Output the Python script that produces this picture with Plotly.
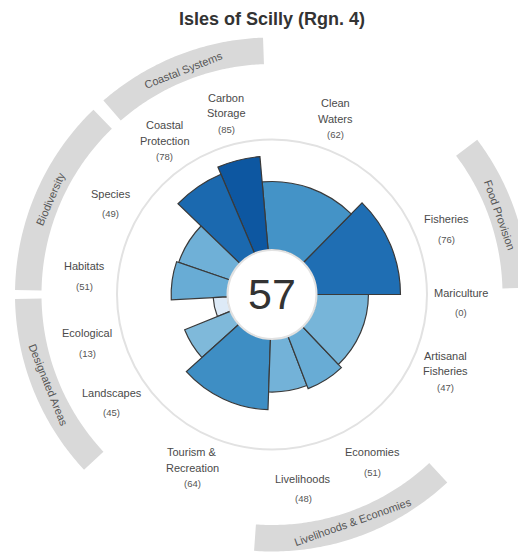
import numpy as np
import plotly.graph_objects as go
import plotly.colors as pc

# ---------------- data ----------------
title_text = "Isles of Scilly (Rgn. 4)"
index_score = 57

goals = ["Fisheries", "Clean Waters", "Carbon Storage", "Coastal Protection",
         "Species", "Habitats", "Ecological", "Landscapes",
         "Tourism & Recreation", "Livelihoods", "Economies",
         "Artisanal Fisheries", "Mariculture"]
label_lines = [["Fisheries"], ["Clean", "Waters"], ["Carbon", "Storage"],
               ["Coastal", "Protection"], ["Species"], ["Habitats"],
               ["Ecological"], ["Landscapes"], ["Tourism &", "Recreation"],
               ["Livelihoods"], ["Economies"], ["Artisanal", "Fisheries"],
               ["Mariculture"]]
scores = [76, 62, 85, 78, 49, 51, 13, 45, 64, 48, 51, 47, 0]
# angular width of each petal (degrees), counter-clockwise from east
widths = [45.5, 49.5, 18, 23, 25, 22, 19, 20, 46, 23, 22.5, 46.5, 0]

groups = ["Food Provision", "Coastal Systems", "Biodiversity",
          "Designated Areas", "Livelihoods & Economies"]
group_start = [1.5, 92, 134, 181, 266]
group_end = [37, 131, 179, 223, 313]

# ---------------- geometry (pixels) ----------------
W, H = 518, 552
cx, cy = 272, 294.5
R_outer = 155.0
R_hole = 44.5
band_r0, band_r1 = 230.5, 257.0
FONT = "Liberation Sans, Arial, sans-serif"


def px_to_paper(x, y):
    return x / W, 1 - y / H


starts = np.concatenate([[0], np.cumsum(widths)[:-1]])
centers = starts + np.array(widths) / 2.0
colors = pc.sample_colorscale(pc.sequential.Blues, [s / 100 for s in scores])

fig = go.Figure()
fig.add_trace(go.Barpolar(
    r=scores, theta=centers, width=widths, base=0,
    marker=dict(color=colors, line=dict(color="#3a3a3a", width=1.2)),
    hoverinfo="skip", showlegend=False,
))

x0, y0 = px_to_paper(cx - R_outer, cy + R_outer)
x1, y1 = px_to_paper(cx + R_outer, cy - R_outer)

shapes = []
for gs, ge in zip(group_start, group_end):
    a = np.radians(np.linspace(gs, ge, 80))
    pts = [(cx + band_r1 * np.cos(t), cy - band_r1 * np.sin(t)) for t in a]
    pts += [(cx + band_r0 * np.cos(t), cy - band_r0 * np.sin(t)) for t in a[::-1]]
    path = "M " + " L ".join("%.5f,%.5f" % px_to_paper(px, py) for px, py in pts) + " Z"
    shapes.append(dict(type="path", xref="paper", yref="paper", path=path,
                       fillcolor="#d9d9d9", line=dict(width=0), layer="below"))

annotations = []
# title
tx, ty = px_to_paper(271.5, 19)
annotations.append(dict(x=tx, y=ty, xref="paper", yref="paper", text="<b>%s</b>" % title_text,
                        showarrow=False, xanchor="center", yanchor="middle",
                        font=dict(family=FONT, size=18, color="#333333")))
# index
ix, iy = px_to_paper(cx, cy - 1)
annotations.append(dict(x=ix, y=iy, xref="paper", yref="paper", text=str(index_score),
                        showarrow=False, xanchor="center", yanchor="middle",
                        font=dict(family=FONT, size=43, color="#333333")))

# petal labels
R_lab = 189
for lines, sc, ang in zip(label_lines, scores, centers):
    t = np.radians(ang)
    lx = cx + R_lab * np.cos(t)
    vy = cy + 18 - R_lab * np.sin(t)
    vx_p, vy_p = px_to_paper(lx, vy)
    annotations.append(dict(x=vx_p, y=vy_p, xref="paper", yref="paper", text="(%d)" % sc,
                            showarrow=False, xanchor="center", yanchor="middle",
                            font=dict(family=FONT, size=9.5, color="#555555")))
    if len(lines) == 1:
        offs = [20]
    else:
        offs = [15.7 * (len(lines) - i) for i in range(len(lines))]
    for ln, o in zip(lines, offs):
        nx, ny = px_to_paper(lx, vy - o)
        annotations.append(dict(x=nx, y=ny, xref="paper", yref="paper", text=ln,
                                showarrow=False, xanchor="center", yanchor="middle",
                                font=dict(family=FONT, size=11, color="#4a4a4a")))

# group band labels
R_band_lab = 241
for g, gs, ge in zip(groups, group_start, group_end):
    mid = (gs + ge) / 2.0
    t = np.radians(mid)
    bx, by = px_to_paper(cx + R_band_lab * np.cos(t), cy - R_band_lab * np.sin(t))
    if 0 < mid < 60:
        rot = 90 - mid          # top-to-bottom on right
    elif 60 <= mid < 180:
        rot = -(mid - 90)       # along top / bottom-to-top on left
    elif 180 <= mid < 250:
        rot = 270 - mid         # top-to-bottom on left
    else:
        rot = -(mid - 270)      # along bottom
    annotations.append(dict(x=bx, y=by, xref="paper", yref="paper", text=g,
                            showarrow=False, xanchor="center", yanchor="middle",
                            textangle=rot,
                            font=dict(family=FONT, size=11, color="#555555")))

fig.update_layout(
    width=W, height=H,
    margin=dict(l=0, r=0, t=0, b=0),
    paper_bgcolor="white", plot_bgcolor="white",
    showlegend=False,
    polar=dict(
        domain=dict(x=[x0, x1], y=[y0, y1]),
        hole=R_hole / R_outer,
        bgcolor="rgba(0,0,0,0)",
        radialaxis=dict(range=[0, 100], visible=False),
        angularaxis=dict(direction="counterclockwise", rotation=0,
                         showgrid=False, showticklabels=False, ticks="",
                         showline=True, linecolor="#e2e2e2", linewidth=2),
    ),
    shapes=shapes,
    annotations=annotations,
)

fig.write_html("out.html", config={"displayModeBar": False},
               post_script="document.body.style.margin='0px';document.body.style.overflow='hidden';")
